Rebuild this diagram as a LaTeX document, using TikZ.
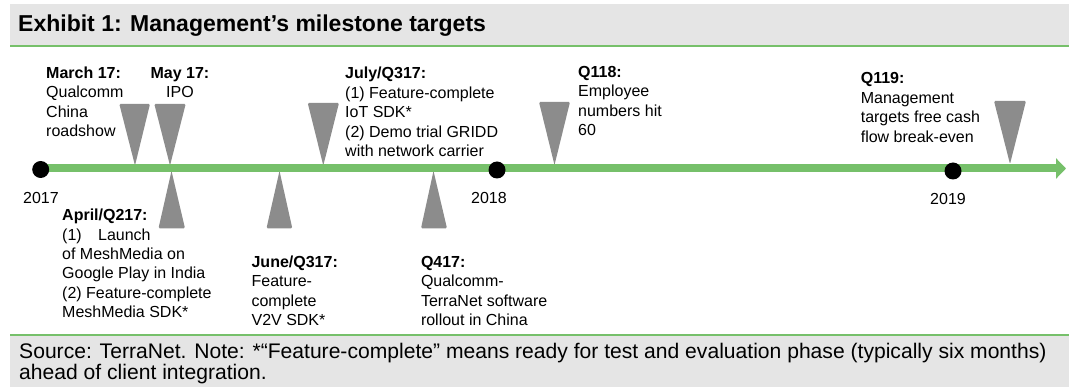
\documentclass[tikz,border=0pt]{standalone}
\usepackage{fontspec}
\setmainfont{Liberation Sans}
\usetikzlibrary{arrows.meta}
\definecolor{tlgreen}{RGB}{118,192,106}
\definecolor{bandgray}{RGB}{229,229,229}
\definecolor{markgray}{RGB}{140,140,140}
\begin{document}
\begin{tikzpicture}[x=1pt,y=-1pt,
  lbl/.style={anchor=base west, inner sep=0, font=\fontsize{16}{19.4}\selectfont},
  clbl/.style={anchor=base, inner sep=0, font=\fontsize{16}{19.4}\selectfont},
  yearlbl/.style={anchor=base, inner sep=0, font=\fontsize{16}{19.4}\selectfont},
  dot/.style={circle, fill=black, minimum size=17pt, inner sep=0},
  marker/.style={fill=markgray, rounded corners=1.2pt},
  band/.style={fill=bandgray},
  rule/.style={draw=tlgreen, line width=2.5pt},
  timeline/.style={draw=tlgreen, line width=8pt, -{Triangle[length=10pt,width=20pt]}},
]
\useasboundingbox (0,0) rectangle (1069,387);
\fill[white] (0,0) rectangle (1069,387);

% title band
\fill[band] (10,4) rectangle (1069,45);
\draw[rule] (10,46) -- (1069,46);
\node[anchor=base west, inner sep=0, font=\bfseries\fontsize{23}{27}\selectfont] (title) at (18,32) {Exhibit 1: Management’s milestone targets};

% footer band
\draw[rule] (10,335) -- (1069,335);
\fill[band] (10,336.2) rectangle (1069,387);
\node[anchor=base west, inner sep=0, font=\fontsize{21.1}{18.8}\selectfont] (note) at (19,358.7) {\begin{tabular}[t]{@{}l@{}}Source: TerraNet. Note: *“Feature-complete” means ready for test and evaluation phase (typically six months)\\ahead of client integration.\end{tabular}};

% upper markers (pointing down)
\fill[marker] (119.3,104) -- (150,104) -- (135,165.5) -- cycle;
\fill[marker] (154.3,104) -- (185.7,104) -- (170,165.5) -- cycle;
\fill[marker] (307.7,103) -- (339,103) -- (323.3,165.5) -- cycle;
\fill[marker] (539,102) -- (570,102) -- (554.5,165) -- cycle;
\fill[marker] (994,101) -- (1026,101) -- (1010,164) -- cycle;

% lower markers (pointing up)
\fill[marker] (171.5,171) -- (185,228.3) -- (158.5,228.3) -- cycle;
\fill[marker] (279.5,171) -- (292.3,228.3) -- (266.5,228.3) -- cycle;
\fill[marker] (433.5,171) -- (447,228.3) -- (421,228.3) -- cycle;

% timeline
\coordinate (start) at (40.7,168.5);
\coordinate (tlend) at (1066,168.5);
\draw[timeline] (start) -- (tlend);
\node[dot] (d2017) at (40.7,169.5) {};
\node[dot] (d2018) at (497,170) {};
\node[dot] (d2019) at (953,171) {};
\node[yearlbl] (y2017) at (41,203.5) {2017};
\node[yearlbl] (y2018) at (489,204) {2018};
\node[yearlbl] (y2019) at (948,205) {2019};

% labels above
\node[lbl] (march) at (46,78.3) {\begin{tabular}[t]{@{}l@{}}\textbf{March 17:}\\Qualcomm\\China\\roadshow\end{tabular}};
\node[clbl] (may) at (180,78.3) {\begin{tabular}[t]{@{}c@{}}\textbf{May 17:}\\IPO\end{tabular}};
\node[lbl] (july) at (345,79) {\begin{tabular}[t]{@{}l@{}}\textbf{July/Q317:}\\(1) Feature-complete\\IoT SDK*\\(2) Demo trial GRIDD\\with network carrier\end{tabular}};
\node[lbl] (q118) at (578,77.3) {\begin{tabular}[t]{@{}l@{}}\textbf{Q118:}\\Employee\\numbers hit\\60\end{tabular}};
\node[lbl] (q119) at (860.6,84) {\begin{tabular}[t]{@{}l@{}}\textbf{Q119:}\\Management\\targets free cash\\flow break-even\end{tabular}};

% labels below
\node[lbl] (april) at (62,220.7) {\begin{tabular}[t]{@{}l@{}}\textbf{April/Q217:}\\(1)\hspace{16.4pt}Launch\\of MeshMedia on\\Google Play in India\\(2) Feature-complete\\MeshMedia SDK*\end{tabular}};
\node[lbl] (june) at (251.4,267.5) {\begin{tabular}[t]{@{}l@{}}\textbf{June/Q317:}\\Feature-\\complete\\V2V SDK*\end{tabular}};
\node[lbl] (q417) at (420.8,267.5) {\begin{tabular}[t]{@{}l@{}}\textbf{Q417:}\\Qualcomm-\\TerraNet software\\rollout in China\end{tabular}};
\end{tikzpicture}
\end{document}
